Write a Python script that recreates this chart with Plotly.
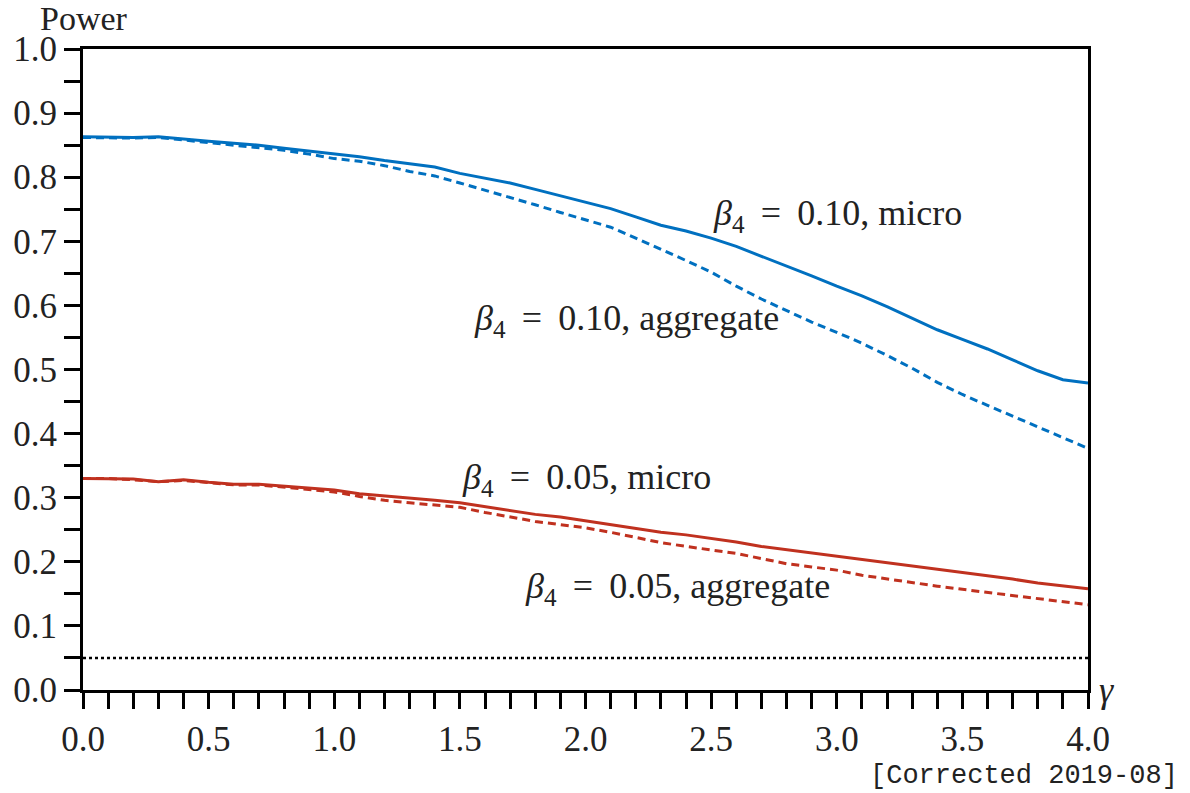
import plotly.graph_objects as go

gamma = [round(0.1 * i, 1) for i in range(41)]

micro_010 = [0.863, 0.862, 0.862, 0.863, 0.859, 0.856, 0.853, 0.850, 0.845, 0.841,
             0.836, 0.832, 0.826, 0.821, 0.816, 0.806, 0.799, 0.791, 0.781, 0.771,
             0.761, 0.751, 0.738, 0.725, 0.716, 0.705, 0.692, 0.677, 0.662, 0.646,
             0.630, 0.615, 0.598, 0.580, 0.562, 0.547, 0.532, 0.515, 0.498, 0.484,
             0.479]
aggr_010 = [0.862, 0.861, 0.861, 0.862, 0.858, 0.855, 0.851, 0.847, 0.842, 0.836,
            0.829, 0.825, 0.818, 0.809, 0.802, 0.791, 0.780, 0.769, 0.757, 0.745,
            0.734, 0.722, 0.705, 0.688, 0.670, 0.652, 0.630, 0.610, 0.592, 0.574,
            0.558, 0.541, 0.522, 0.502, 0.480, 0.461, 0.444, 0.427, 0.410, 0.393,
            0.377]
micro_005 = [0.330, 0.330, 0.329, 0.325, 0.328, 0.324, 0.321, 0.321, 0.318, 0.315,
             0.312, 0.306, 0.303, 0.300, 0.296, 0.292, 0.286, 0.280, 0.274, 0.270,
             0.264, 0.258, 0.253, 0.246, 0.242, 0.237, 0.231, 0.224, 0.219, 0.214,
             0.209, 0.204, 0.199, 0.193, 0.188, 0.183, 0.178, 0.173, 0.167, 0.163,
             0.158]
aggr_005 = [0.330, 0.330, 0.328, 0.325, 0.327, 0.323, 0.320, 0.320, 0.316, 0.313,
            0.309, 0.302, 0.296, 0.292, 0.289, 0.285, 0.277, 0.270, 0.263, 0.258,
            0.253, 0.246, 0.238, 0.230, 0.224, 0.219, 0.213, 0.205, 0.197, 0.192,
            0.187, 0.179, 0.173, 0.168, 0.162, 0.157, 0.152, 0.147, 0.142, 0.138,
            0.133]
size_level = 0.05

x_ticks = [round(0.1 * i, 1) for i in range(41)]
x_labels = [f"{v:.1f}" if i % 5 == 0 else "" for i, v in enumerate(x_ticks)]
y_ticks = [round(0.05 * i, 2) for i in range(21)]
y_labels = [f"{v:.1f}" if i % 2 == 0 else "" for i, v in enumerate(y_ticks)]

BLUE = "#0070C0"
RED = "#C0311F"
FONT = "Liberation Serif"
TXT = "#222222"

fig = go.Figure()
fig.add_trace(go.Scatter(x=gamma, y=[size_level] * len(gamma), mode="lines",
                         line=dict(color="black", width=2.5, dash="3px,3px")))
fig.add_trace(go.Scatter(x=gamma, y=aggr_010, mode="lines",
                         line=dict(color=BLUE, width=3, dash="8px,5px")))
fig.add_trace(go.Scatter(x=gamma, y=micro_010, mode="lines",
                         line=dict(color=BLUE, width=3)))
fig.add_trace(go.Scatter(x=gamma, y=aggr_005, mode="lines",
                         line=dict(color=RED, width=3, dash="8px,5px")))
fig.add_trace(go.Scatter(x=gamma, y=micro_005, mode="lines",
                         line=dict(color=RED, width=3)))

EQ = "\u2009=\u2009"
labels = [
    (f"<i>β</i><sub>4</sub> {EQ} 0.10, micro", 2.5, 0.741),
    (f"<i>β</i><sub>4</sub> {EQ} 0.10, aggregate", 1.55, 0.577),
    (f"<i>β</i><sub>4</sub> {EQ} 0.05, micro", 1.5, 0.328),
    (f"<i>β</i><sub>4</sub> {EQ} 0.05, aggregate", 1.75, 0.159),
]
for txt, lx, ly in labels:
    fig.add_annotation(x=lx, y=ly, text=txt, showarrow=False, xanchor="left",
                       yanchor="middle", font=dict(family=FONT, size=36, color=TXT))

fig.add_annotation(xref="paper", yref="paper", x=-0.045, y=1.047, text="Power",
                   showarrow=False, xanchor="left", yanchor="middle",
                   font=dict(family=FONT, size=34, color=TXT))
fig.add_annotation(xref="paper", yref="paper", x=1.009, y=0.0, text="<i>γ</i>",
                   showarrow=False, xanchor="left", yanchor="middle",
                   font=dict(family=FONT, size=36, color=TXT))
fig.add_annotation(xref="paper", yref="paper", x=1.0915, y=-0.134,
                   text="[Corrected 2019-08]", showarrow=False, xanchor="right",
                   yanchor="middle", font=dict(family="Liberation Mono", size=27, color=TXT))

axis_common = dict(showline=True, linecolor="black", linewidth=3, mirror=True,
                   ticks="outside", ticklen=16, tickwidth=3, tickcolor="black",
                   showgrid=False, zeroline=False,
                   tickfont=dict(family=FONT, size=35, color=TXT))
fig.update_xaxes(range=[0, 4.0], tickmode="array", tickvals=x_ticks,
                 ticktext=x_labels, **axis_common)
fig.update_yaxes(range=[0, 1.0], tickmode="array", tickvals=y_ticks,
                 ticktext=y_labels, **axis_common)

fig.update_layout(width=1190, height=793, showlegend=False,
                  plot_bgcolor="white", paper_bgcolor="white",
                  margin=dict(l=83, r=102, t=49, b=103))
fig.write_html("out.html")
